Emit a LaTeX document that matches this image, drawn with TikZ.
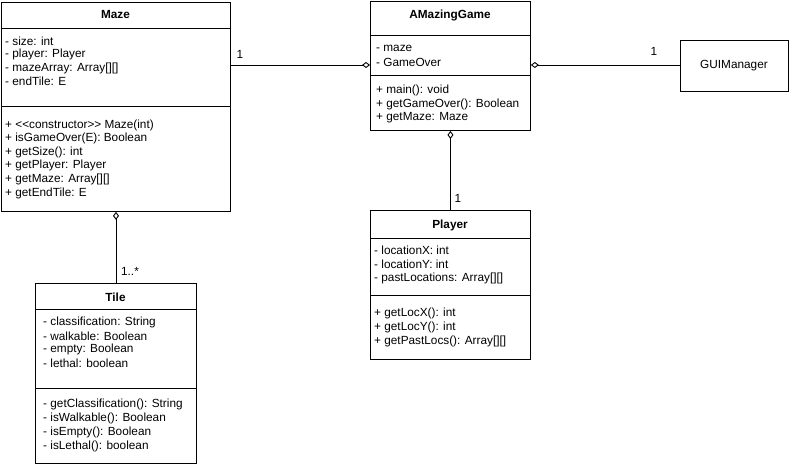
\documentclass[tikz,border=0pt]{standalone}
\usepackage{fontspec}
\newfontfamily\umlfont{Liberation Sans}
\usetikzlibrary{arrows.meta}
\tikzset{
  box/.style={draw, line width=0.9pt, inner sep=0pt, anchor=north west, fill=white},
  title/.style={font=\umlfont\fontsize{11.8}{13}\selectfont\bfseries, inner sep=0pt},
  txt/.style={font=\umlfont\fontsize{11.8}{13}\selectfont, inner sep=0pt, anchor=west},
  mult/.style={font=\umlfont\fontsize{11.8}{13}\selectfont, inner sep=0pt},
  divider/.style={line width=0.9pt},
  agg/.style={line width=0.9pt, {Diamond[open, length=8pt, width=6pt]}-},
}
\begin{document}
\begin{tikzpicture}[x=1pt, y=-1pt]
\useasboundingbox (0,0) rectangle (792,465);
% ---------- Maze ----------
\node[box, minimum width=229pt, minimum height=209pt] (maze) at (1,2) {};
\draw[divider] (1,28) -- (230,28);
\draw[divider] (1,106) -- (230,106);
\node[title] (mazet) at (115.5,15) {Maze};
\foreach \t [count=\i] in {- size: int, - player: Player, - mazeArray: Array[][], - endTile: E}
  \node[txt] (mazea\i) at (5,{41+(\i-1)*13.5}) {\t};
\foreach \t [count=\i] in {+ \hbox{<}\hbox{<}constructor\hbox{>}\hbox{>} Maze(int), + isGameOver(E): Boolean, + getSize(): int, + getPlayer: Player, + getMaze: Array[][], + getEndTile: E}
  \node[txt] (mazem\i) at (5,{125+(\i-1)*13.6}) {\t};
% ---------- AMazingGame ----------
\node[box, minimum width=160pt, minimum height=129pt] (game) at (370,1) {};
\draw[divider] (370,35) -- (530,35);
\draw[divider] (370,75) -- (530,75);
\node[title] (gamet) at (450,15) {AMazingGame};
\foreach \t [count=\i] in {- maze, - GameOver}
  \node[txt] (gamea\i) at (376,{48+(\i-1)*14}) {\t};
\foreach \t [count=\i] in {+ main(): void, + getGameOver(): Boolean, + getMaze: Maze}
  \node[txt] (gamem\i) at (376,{90+(\i-1)*14}) {\t};
% ---------- GUIManager ----------
\node[box, minimum width=108pt, minimum height=51pt] (gui) at (680,40) {};
\node[mult] (guit) at (734,65.5) {GUIManager};
% ---------- Player ----------
\node[box, minimum width=160pt, minimum height=149pt] (player) at (370,210) {};
\draw[divider] (370,238) -- (530,238);
\draw[divider] (370,295) -- (530,295);
\node[title] (playert) at (450,225) {Player};
\foreach \t [count=\i] in {- locationX: int, - locationY: int, - pastLocations: Array[][]}
  \node[txt] (playera\i) at (374,{250+(\i-1)*14}) {\t};
\foreach \t [count=\i] in {+ getLocX(): int, + getLocY(): int, + getPastLocs(): Array[][]}
  \node[txt] (playerm\i) at (374,{313+(\i-1)*14}) {\t};
% ---------- Tile ----------
\node[box, minimum width=161pt, minimum height=180pt] (tile) at (35,283) {};
\draw[divider] (35,309) -- (196,309);
\draw[divider] (35,388) -- (196,388);
\node[title] (tilet) at (115.5,297) {Tile};
\foreach \t [count=\i] in {- classification: String, - walkable: Boolean, - empty: Boolean, - lethal: boolean}
  \node[txt] (tilea\i) at (43,{322+(\i-1)*13.8}) {\t};
\foreach \t [count=\i] in {- getClassification(): String, - isWalkable(): Boolean, - isEmpty(): Boolean, - isLethal(): boolean}
  \node[txt] (tilem\i) at (43,{404+(\i-1)*14}) {\t};
% ---------- connectors ----------
\draw[agg] (game.west |- 0,65) -- (maze.east |- 0,65);
\draw[agg] (game.east |- 0,65) -- (gui.west |- 0,65);
\draw[agg] (game.south) -- (player.north);
\draw[agg] (maze.south -| 116,0) -- (tile.north -| 116,0);
\node[mult] (m1) at (240,54) {1};
\node[mult] (m2) at (654,51) {1};
\node[mult] (m3) at (458,198) {1};
\node[mult] (m4) at (130,271) {1..*};
\end{tikzpicture}
\end{document}
